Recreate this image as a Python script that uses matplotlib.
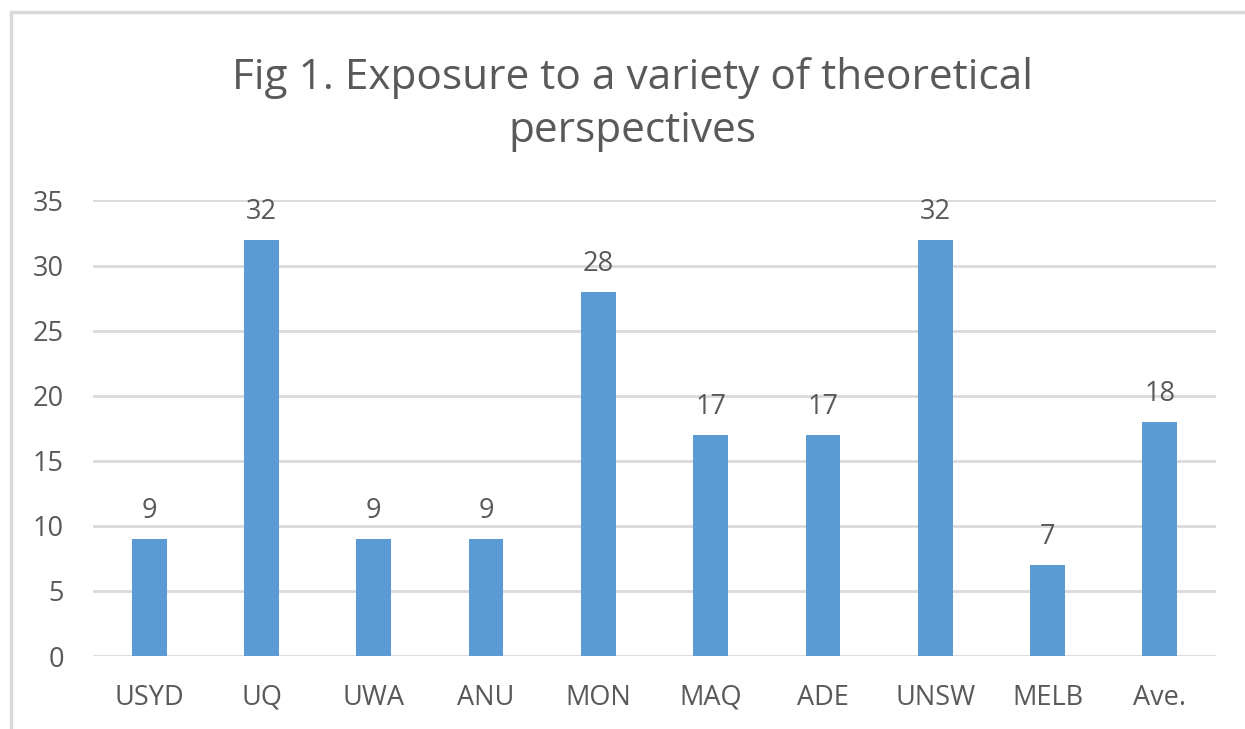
import matplotlib
matplotlib.use("Agg")
import matplotlib.pyplot as plt
from matplotlib.patches import Rectangle

plt.rcParams['font.family'] = ['Open Sans', 'DejaVu Sans']

universities = ["USYD", "UQ", "UWA", "ANU", "MON", "MAQ", "ADE", "UNSW", "MELB", "Ave."]
scores = [9, 32, 9, 9, 28, 17, 17, 32, 7, 18]
yticks = [0, 5, 10, 15, 20, 25, 30, 35]

bar_color = "#5B9BD5"
grid_color = "#D9D9D9"
text_color = "#595959"

fig = plt.figure(figsize=(12.45, 7.29), dpi=100)
ax = fig.add_axes([0.0747, 0.1001, 0.9020, 0.6249])

# outer chart frame (Excel style)
fig.patches.append(Rectangle((0.0085, -0.01), 1.2, 0.9935, transform=fig.transFigure,
                             fill=False, edgecolor=grid_color, linewidth=2.5))

x = range(len(universities))
bars = ax.bar(x, scores, width=0.31, color=bar_color, zorder=3)
for xi, v in zip(x, scores):
    ax.annotate(str(v), (xi, v), xytext=(0, 10), textcoords="offset points",
                ha="center", va="bottom", fontsize=19.5, color=text_color)

ax.set_xlim(-0.5, len(universities) - 0.5)
ax.set_ylim(0, 35)
ax.set_yticks(yticks)
ax.set_xticks(list(x))
ax.set_xticklabels(universities)
ax.yaxis.grid(True, color=grid_color, linewidth=2, zorder=0)
for s in ax.spines.values():
    s.set_visible(False)
ax.tick_params(axis="both", length=0, labelsize=19.5, labelcolor=text_color)
ax.tick_params(axis="y", pad=21)
ax.tick_params(axis="x", pad=20)

fig.text(0.508, 0.857, "Fig 1. Exposure to a variety of theoretical\nperspectives",
         ha="center", va="center", fontsize=30.5, color=text_color, linespacing=1.33)

fig.savefig("out.png", dpi=100)
